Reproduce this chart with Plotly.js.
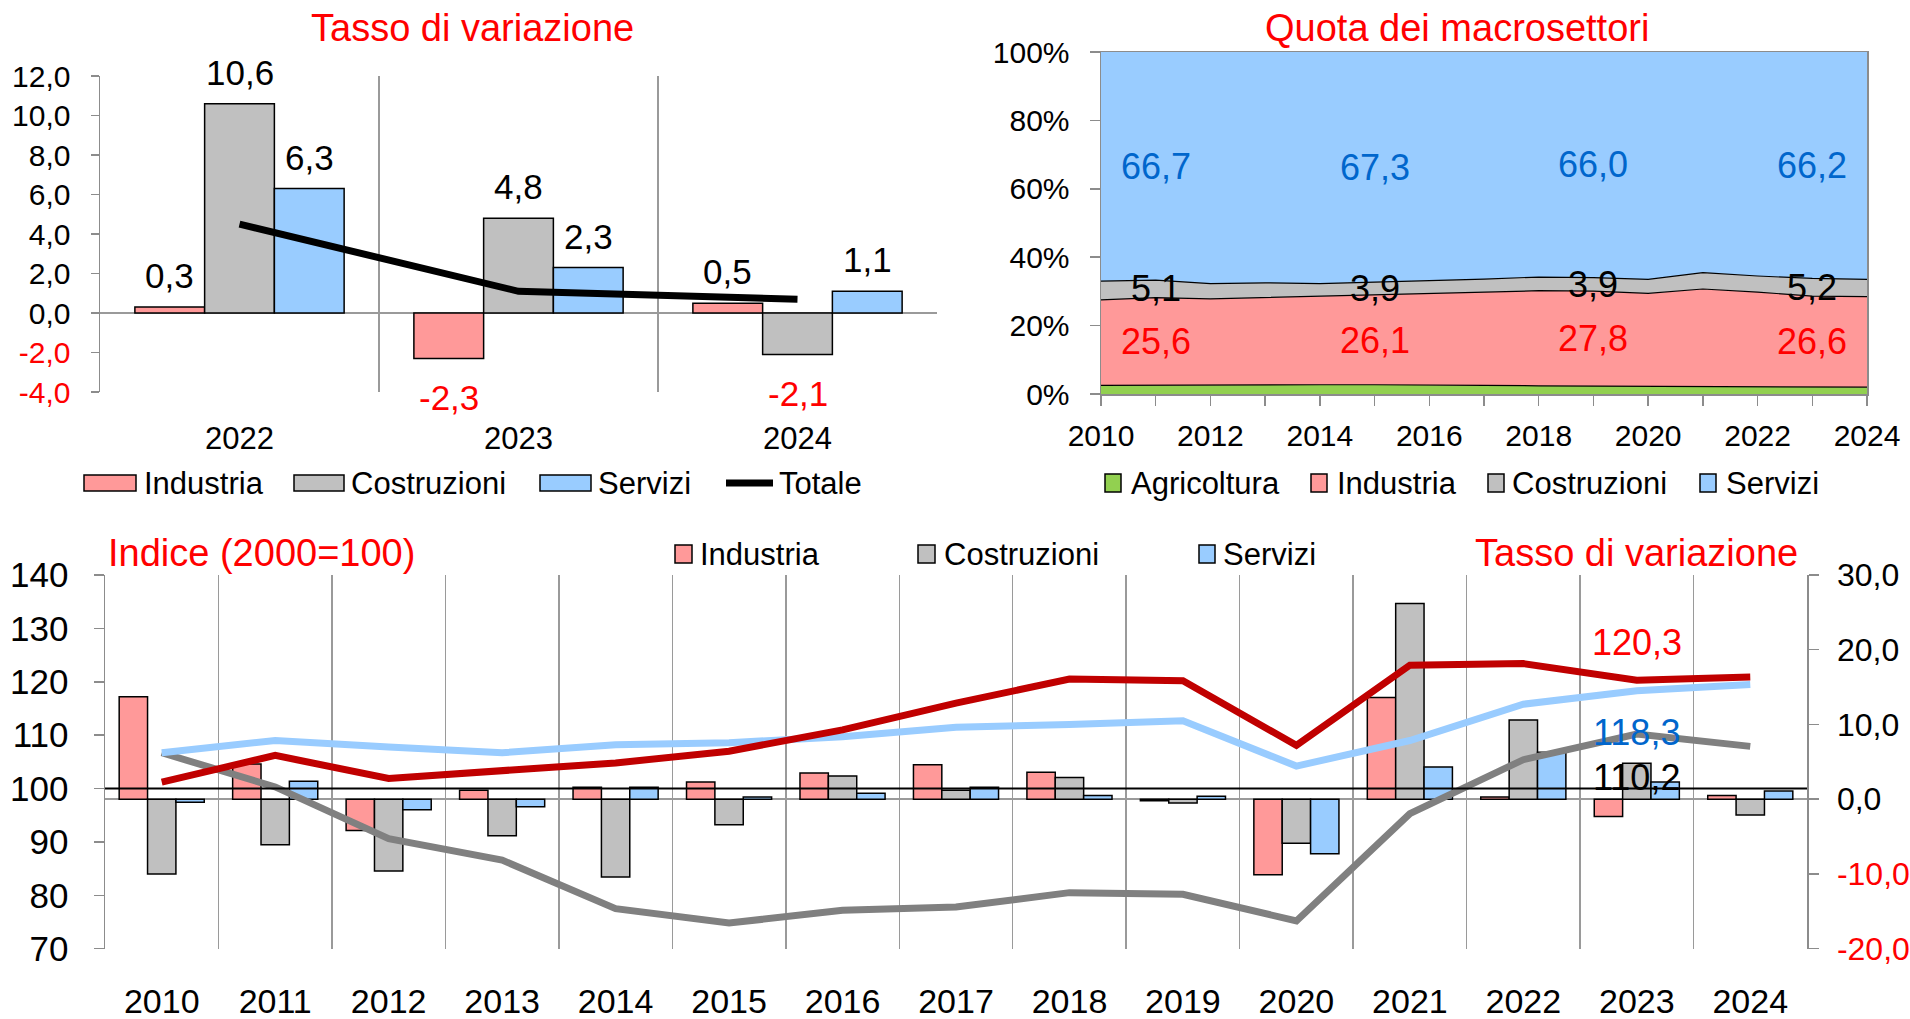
<!DOCTYPE html>
<html><head><meta charset="utf-8">
<script src="https://cdn.plot.ly/plotly-3.0.1.min.js"></script>
<style>html,body{margin:0;padding:0;background:#fff;overflow:hidden}#chart{width:1910px;height:1019px}</style>
</head><body><div id="chart"></div>
<script>
// ---------- DATA: chart 1 (Tasso di variazione) ----------
const years1 = ['2022', '2023', '2024'];
const ind1 = [0.3, -2.3, 0.5];
const cos1 = [10.6, 4.8, -2.1];
const ser1 = [6.3, 2.3, 1.1];
const tot1 = [4.5, 1.1, 0.7];
const yTicks1 = [-4, -2, 0, 2, 4, 6, 8, 10, 12];

// ---------- DATA: chart 2 (Quota dei macrosettori) ----------
const years2 = [2010, 2011, 2012, 2013, 2014, 2015, 2016, 2017, 2018, 2019, 2020, 2021, 2022, 2023, 2024];
const agr2 = [2.5, 2.6, 2.6, 2.6, 2.7, 2.7, 2.7, 2.5, 2.4, 2.3, 2.4, 2.2, 2.1, 2.0, 2.0];
const ind2 = [25.0, 25.6, 25.2, 25.6, 25.8, 26.1, 26.7, 27.3, 27.8, 27.8, 27.0, 28.5, 27.7, 26.6, 26.5];
const cos2 = [5.5, 5.1, 4.5, 4.3, 3.8, 3.9, 3.8, 3.8, 4.0, 3.9, 4.1, 4.8, 4.7, 5.2, 5.0];
const ser2 = [67.0, 66.7, 67.7, 67.5, 67.7, 67.3, 66.8, 66.4, 65.8, 66.0, 66.5, 64.5, 65.5, 66.2, 66.5];
const labelYears2 = [2011, 2015, 2019, 2023];
const yTicks2 = [0, 20, 40, 60, 80, 100];

// ---------- DATA: chart 3 (Indice + Tasso di variazione) ----------
const years3 = ['2010', '2011', '2012', '2013', '2014', '2015', '2016', '2017', '2018', '2019', '2020', '2021', '2022', '2023', '2024'];
const indIdx = [101.2, 106.2, 101.9, 103.3, 104.8, 107.0, 111.0, 116.0, 120.5, 120.2, 108.1, 123.1, 123.4, 120.3, 120.9];
const cosIdx = [106.7, 100.3, 90.6, 86.6, 77.5, 74.8, 77.2, 77.8, 80.5, 80.2, 75.2, 95.3, 105.4, 110.2, 107.9];
const serIdx = [106.7, 109.0, 107.8, 106.7, 108.2, 108.6, 109.7, 111.5, 112.0, 112.7, 104.2, 109.0, 115.8, 118.3, 119.5];
const indVar = [13.7, 4.7, -4.2, 1.2, 1.6, 2.3, 3.5, 4.6, 3.6, -0.2, -10.1, 13.6, 0.3, -2.3, 0.5];
const cosVar = [-10.0, -6.1, -9.6, -4.9, -10.4, -3.4, 3.1, 1.2, 2.9, -0.5, -5.9, 26.2, 10.6, 4.8, -2.1];
const serVar = [-0.4, 2.4, -1.4, -1.0, 1.6, 0.3, 0.8, 1.6, 0.5, 0.4, -7.3, 4.3, 6.3, 2.3, 1.1];
const yTicksL = [70, 80, 90, 100, 110, 120, 130, 140];
const yTicksR = [-20, -10, 0, 10, 20, 30];
const labelIdx3 = 13; // 2023

// ---------- helpers / styles ----------
const W = 1910, H = 1019;
const px = v => v / W;
const py = v => 1 - v / H;
const FONT = 'Liberation Sans, Arial, sans-serif';
const RED = '#FF0000', BLUE_T = '#0066CC';
const C_IND = '#FF9999', C_COS = '#C0C0C0', C_SER = '#99CCFF', C_AGR = '#92D050';
const L_IND = '#C00000', L_COS = '#808080', L_SER = '#99CCFF';
const GRID = '#9A9A9A', AX = '#8C8C8C';
const fmt = (v, d) => v.toFixed(d).replace('.', ',');
const tickTexts = (vals, d, suf) => vals.map(v => v < 0 ? `<span style="color:${RED}">${fmt(v, d)}</span>` : fmt(v, d) + (suf || ''));

const barLine = {color: '#000', width: 1.5};
const traces = [];

// chart 1
[[ind1, C_IND], [cos1, C_COS], [ser1, C_SER]].forEach(([vals, col]) => {
  traces.push({type: 'bar', x: years1, y: vals, xaxis: 'x', yaxis: 'y', marker: {color: col, line: barLine}, showlegend: false, hoverinfo: 'skip'});
});
traces.push({type: 'scatter', mode: 'lines', x: years1, y: tot1, xaxis: 'x', yaxis: 'y', line: {color: '#000', width: 7}, showlegend: false, hoverinfo: 'skip'});

// chart 2
[[agr2, C_AGR, '#000', 1.2], [ind2, C_IND, '#000', 1.2], [cos2, C_COS, '#000', 1.2], [ser2, C_SER, C_SER, 0]].forEach(([vals, col, lc, lw]) => {
  traces.push({type: 'scatter', mode: 'lines', x: years2, y: vals, xaxis: 'x2', yaxis: 'y2', stackgroup: 'q', groupnorm: 'percent', fillcolor: col, line: {color: lc, width: lw}, showlegend: false, hoverinfo: 'skip'});
});

// chart 3 bars (right axis)
[[indVar, C_IND], [cosVar, C_COS], [serVar, C_SER]].forEach(([vals, col]) => {
  traces.push({type: 'bar', x: years3, y: vals, xaxis: 'x3', yaxis: 'y3', marker: {color: col, line: barLine}, showlegend: false, hoverinfo: 'skip'});
});
// chart 3 lines (left axis)
[[cosIdx, L_COS], [serIdx, L_SER], [indIdx, L_IND]].forEach(([vals, col]) => {
  traces.push({type: 'scatter', mode: 'lines', x: years3, y: vals, xaxis: 'x3', yaxis: 'y4', line: {color: col, width: 7}, showlegend: false, hoverinfo: 'skip'});
});

// ---------- annotations ----------
const ann = [];
const shapes = [];
function text(t, x, y, size, color, xanchor) {
  ann.push({text: t, x: px(x), y: py(y), xref: 'paper', yref: 'paper', xanchor: xanchor || 'center', yanchor: 'middle', showarrow: false, font: {family: FONT, size: size, color: color}});
}
function swatch(x0, x1, y0, y1, col) {
  shapes.push({type: 'rect', xref: 'paper', yref: 'paper', x0: px(x0), x1: px(x1), y0: py(y1), y1: py(y0), fillcolor: col, line: {color: '#000', width: 1.5}});
}
// titles
text('Tasso di variazione', 472, 28, 38, RED);
text('Quota dei macrosettori', 1457, 28, 38, RED);
text('Indice (2000=100)', 106, 553, 38, RED, 'left');
text('Tasso di variazione', 1800, 553, 38, RED, 'right');

// legend chart 1
swatch(84, 136, 475, 491, C_IND); text('Industria', 142, 484, 31, '#000', 'left');
swatch(294, 344, 475, 491, C_COS); text('Costruzioni', 349, 484, 31, '#000', 'left');
swatch(540, 591, 475, 491, C_SER); text('Servizi', 596, 484, 31, '#000', 'left');
shapes.push({type: 'line', xref: 'paper', yref: 'paper', x0: px(726), x1: px(773), y0: py(483), y1: py(483), line: {color: '#000', width: 7}});
text('Totale', 777, 484, 31, '#000', 'left');

// legend chart 2
swatch(1105, 1121, 474, 492, C_AGR); text('Agricoltura', 1129, 484, 31, '#000', 'left');
swatch(1311, 1327, 474, 492, C_IND); text('Industria', 1335, 484, 31, '#000', 'left');
swatch(1488, 1504, 474, 492, C_COS); text('Costruzioni', 1510, 484, 31, '#000', 'left');
swatch(1700, 1716, 474, 492, C_SER); text('Servizi', 1724, 484, 31, '#000', 'left');

// legend chart 3
swatch(675, 692, 545, 563, C_IND); text('Industria', 698, 554, 31, '#000', 'left');
swatch(918, 935, 545, 563, C_COS); text('Costruzioni', 942, 554, 31, '#000', 'left');
swatch(1199, 1215, 545, 563, C_SER); text('Servizi', 1221, 554, 31, '#000', 'left');

// chart 1 bar value labels (category axis -> serial index)
const bw1 = (937 - 100) / years1.length * 0.75 / 3;
[ind1, cos1, ser1].forEach((vals, i) => {
  vals.forEach((v, j) => {
    ann.push({text: fmt(v, 1), x: j, y: v, xref: 'x', yref: 'y', xshift: (i - 1) * bw1,
      yshift: v >= 0 ? 10 : -18, yanchor: v >= 0 ? 'bottom' : 'top', showarrow: false,
      font: {family: FONT, size: 35, color: v < 0 ? RED : '#000'}});
  });
});

// chart 2 share labels
labelYears2.forEach(yr => {
  const k = years2.indexOf(yr);
  const tot = agr2[k] + ind2[k] + cos2[k] + ser2[k];
  const a = agr2[k] / tot * 100, i = ind2[k] / tot * 100, c = cos2[k] / tot * 100, s = ser2[k] / tot * 100;
  [[ind2[k], a + i / 2, RED], [cos2[k], a + i + c / 2, '#000'], [ser2[k], a + i + c + s / 2, BLUE_T]].forEach(([v, ypos, col]) => {
    ann.push({text: fmt(v, 1), x: yr, y: ypos, xref: 'x2', yref: 'y2', showarrow: false, font: {family: FONT, size: 36, color: col}});
  });
});

// chart 3 index labels (2023)
[[indIdx, RED, 38], [serIdx, BLUE_T, -42], [cosIdx, '#000', -43]].forEach(([arr, col, sh]) => {
  ann.push({text: fmt(arr[labelIdx3], 1), x: labelIdx3, y: arr[labelIdx3], xref: 'x3', yref: 'y4', yshift: sh, showarrow: false, font: {family: FONT, size: 36, color: col}});
});

// black reference line at index 100
shapes.push({type: 'line', xref: 'x3 domain', yref: 'y4', x0: 0, x1: 1, y0: 100, y1: 100, line: {color: '#000', width: 2}});

const tf = (s) => ({family: FONT, size: s, color: '#000'});
const layout = {
  width: W, height: H, margin: {l: 0, r: 0, t: 0, b: 0},
  paper_bgcolor: '#fff', plot_bgcolor: 'rgba(0,0,0,0)',
  font: {family: FONT, color: '#000'},
  separators: ',.',
  barmode: 'group', bargap: 0.25, bargroupgap: 0,
  showlegend: false,
  xaxis: {domain: [px(100), px(937)], anchor: 'y', type: 'category', range: [-0.5, 2.5], tickson: 'boundaries',
    showgrid: true, gridcolor: GRID, gridwidth: 1.5, ticks: '', showline: false, zeroline: false,
    tickfont: tf(31), ticklabelstandoff: 25, fixedrange: true},
  yaxis: {domain: [py(392), py(76)], anchor: 'x', range: [-4, 12], tickvals: yTicks1, ticktext: tickTexts(yTicks1, 1),
    ticks: 'outside', ticklen: 8, tickwidth: 1.5, tickcolor: AX, showline: true, linecolor: AX, linewidth: 1.5,
    showgrid: false, zeroline: true, zerolinecolor: GRID, zerolinewidth: 2, tickfont: tf(30), ticklabelstandoff: 14, fixedrange: true},
  xaxis2: {domain: [px(1101), px(1867)], anchor: 'y2', range: [2010, 2024], tickvals: years2,
    ticktext: years2.map(y => y % 2 === 0 ? String(y) : ''),
    ticks: 'outside', ticklen: 10, tickwidth: 1.5, tickcolor: AX, showline: true, mirror: true, linecolor: AX, linewidth: 1.5,
    showgrid: false, zeroline: false, tickfont: tf(30), ticklabelstandoff: 4, fixedrange: true},
  yaxis2: {domain: [py(394), py(52)], anchor: 'x2', range: [0, 100], tickvals: yTicks2, ticktext: yTicks2.map(v => v + '%'),
    ticks: 'outside', ticklen: 10, tickwidth: 1.5, tickcolor: AX, showline: true, mirror: true, linecolor: AX, linewidth: 1.5,
    showgrid: false, zeroline: false, tickfont: tf(30), ticklabelstandoff: 14, fixedrange: true},
  xaxis3: {domain: [px(105), px(1807)], anchor: 'y3', type: 'category', range: [-0.5, 14.5], tickson: 'boundaries',
    showgrid: true, gridcolor: GRID, gridwidth: 1.5, ticks: '', showline: false, zeroline: false,
    tickfont: tf(34), ticklabelstandoff: 29, fixedrange: true},
  yaxis3: {domain: [py(948.7), py(575)], anchor: 'x3', side: 'right', range: [-20, 30], tickvals: yTicksR, ticktext: tickTexts(yTicksR, 1),
    ticks: 'outside', ticklen: 10, tickwidth: 1.5, tickcolor: AX, showline: true, linecolor: AX, linewidth: 1.5,
    showgrid: false, zeroline: true, zerolinecolor: GRID, zerolinewidth: 2, tickfont: tf(32), ticklabelstandoff: 12, fixedrange: true},
  yaxis4: {overlaying: 'y3', anchor: 'x3', side: 'left', range: [70, 140], tickvals: yTicksL, ticktext: yTicksL.map(String),
    ticks: 'outside', ticklen: 10, tickwidth: 1.5, tickcolor: AX, showline: true, linecolor: AX, linewidth: 1.5,
    showgrid: false, zeroline: false, tickfont: tf(35), ticklabelstandoff: 18, fixedrange: true},
  annotations: ann,
  shapes: shapes
};

Plotly.newPlot('chart', traces, layout, {staticPlot: true, displayModeBar: false});
</script>
</body></html>
